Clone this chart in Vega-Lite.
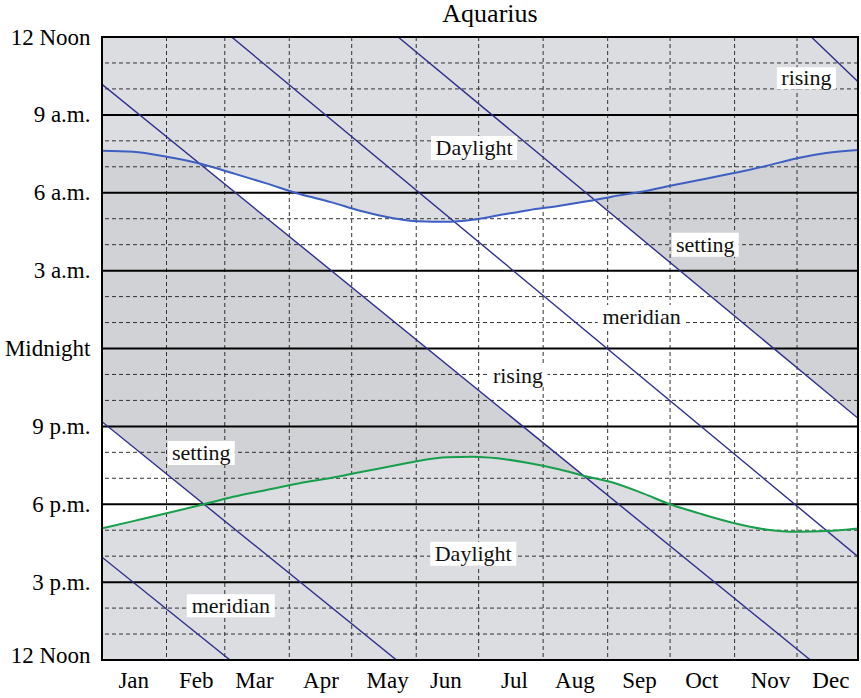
{
  "$schema": "https://vega.github.io/schema/vega-lite/v6.json",
  "width": 756,
  "height": 623,
  "autosize": "none",
  "padding": {"left": 102, "top": 37, "right": 3, "bottom": 38},
  "background": "white",
  "view": {"fill": "#d1d2d5", "stroke": null},
  "title": {"text": "Aquarius", "font": "Liberation Serif", "fontSize": 26, "fontWeight": "normal", "color": "black", "anchor": "middle", "dx": 10, "baseline": "alphabetic", "offset": -22},
  "config": {"font": "Liberation Serif"},
  "datasets": {
    "white": [
      {"piece": "main", "d": 0, "lo": 22.18, "hi": 24},
      {"piece": "main", "d": 142.3, "lo": 12.9, "hi": 24},
      {"piece": "main", "d": 340.4, "lo": 0, "hi": 10.83},
      {"piece": "main", "d": 363.3, "lo": 0, "hi": 9.31},
      {"piece": "low", "d": 0, "lo": 0, "hi": 9.18},
      {"piece": "low", "d": 141.5, "lo": 0, "hi": 0},
      {"piece": "high", "d": 340.9, "lo": 24, "hi": 24},
      {"piece": "high", "d": 363.3, "lo": 22.28, "hi": 24}
    ],
    "sun": [
      {"d": 0, "dawn": 19.62, "dusk": 5.07},
      {"d": 15, "dawn": 19.58, "dusk": 5.35},
      {"d": 31, "dawn": 19.39, "dusk": 5.65},
      {"d": 47, "dawn": 19.13, "dusk": 5.96},
      {"d": 63, "dawn": 18.75, "dusk": 6.29},
      {"d": 79, "dawn": 18.36, "dusk": 6.55},
      {"d": 95, "dawn": 17.95, "dusk": 6.81},
      {"d": 110, "dawn": 17.64, "dusk": 7.01},
      {"d": 125, "dawn": 17.29, "dusk": 7.25},
      {"d": 140, "dawn": 17.02, "dusk": 7.48},
      {"d": 152, "dawn": 16.9, "dusk": 7.67},
      {"d": 166, "dawn": 16.88, "dusk": 7.81},
      {"d": 178, "dawn": 16.96, "dusk": 7.83},
      {"d": 190, "dawn": 17.12, "dusk": 7.77},
      {"d": 205, "dawn": 17.33, "dusk": 7.59},
      {"d": 220, "dawn": 17.5, "dusk": 7.34},
      {"d": 233, "dawn": 17.67, "dusk": 7.07},
      {"d": 245, "dawn": 17.85, "dusk": 6.85},
      {"d": 260, "dawn": 18.05, "dusk": 6.42},
      {"d": 273, "dawn": 18.27, "dusk": 6.0},
      {"d": 287, "dawn": 18.49, "dusk": 5.65},
      {"d": 303, "dawn": 18.75, "dusk": 5.29},
      {"d": 319, "dawn": 19.03, "dusk": 5.03},
      {"d": 334, "dawn": 19.33, "dusk": 4.94},
      {"d": 348, "dawn": 19.53, "dusk": 4.97},
      {"d": 363.3, "dawn": 19.65, "dusk": 5.07}
    ],
    "lines": [
      {"seg": "rising-a", "d": 0, "t": 22.18},
      {"seg": "rising-a", "d": 340.4, "t": 0},
      {"seg": "rising-b", "d": 340.9, "t": 24},
      {"seg": "rising-b", "d": 363.3, "t": 22.28},
      {"seg": "meridian-a", "d": 62.3, "t": 24},
      {"seg": "meridian-a", "d": 363.3, "t": 3.98},
      {"seg": "meridian-b", "d": 0, "t": 3.96},
      {"seg": "meridian-b", "d": 61.5, "t": 0},
      {"seg": "setting-a", "d": 142.3, "t": 24},
      {"seg": "setting-a", "d": 363.3, "t": 9.31},
      {"seg": "setting-b", "d": 0, "t": 9.18},
      {"seg": "setting-b", "d": 141.5, "t": 0}
    ],
    "hours": [
      {"h": 1}, {"h": 2}, {"h": 3}, {"h": 4}, {"h": 5}, {"h": 6}, {"h": 7}, {"h": 8},
      {"h": 9}, {"h": 10}, {"h": 11}, {"h": 12}, {"h": 13}, {"h": 14}, {"h": 15}, {"h": 16},
      {"h": 17}, {"h": 18}, {"h": 19}, {"h": 20}, {"h": 21}, {"h": 22}, {"h": 23}
    ],
    "months": [
      {"d": 31}, {"d": 59}, {"d": 90}, {"d": 120}, {"d": 151}, {"d": 181},
      {"d": 212}, {"d": 243}, {"d": 273}, {"d": 304}, {"d": 334}
    ],
    "labels": [
      {"label": "Daylight", "d": 178.8, "t": 19.72},
      {"label": "Daylight", "d": 178.4, "t": 4.09},
      {"label": "rising", "d": 338.5, "t": 22.41},
      {"label": "rising", "d": 199.9, "t": 10.94},
      {"label": "setting", "d": 289.9, "t": 16.0},
      {"label": "setting", "d": 47.7, "t": 7.97},
      {"label": "meridian", "d": 259.3, "t": 13.23},
      {"label": "meridian", "d": 61.9, "t": 2.09}
    ],
    "frame": [{"name": "frame"}]
  },
  "resolve": {"axis": {"x": "independent", "y": "independent"}},
  "layer": [
    {
      "data": {"name": "white"},
      "mark": {"type": "area", "color": "#ffffff", "opacity": 1, "clip": true},
      "encoding": {
        "x": {"field": "d", "type": "quantitative", "scale": {"domain": [0, 363.3], "nice": false, "zero": false}, "axis": null},
        "y": {"field": "lo", "type": "quantitative", "scale": {"domain": [0, 24], "nice": false, "zero": false}, "axis": null},
        "y2": {"field": "hi"},
        "detail": {"field": "piece"}
      }
    },
    {
      "data": {"name": "sun"},
      "mark": {"type": "area", "color": "#dcdde0", "opacity": 1, "interpolate": "monotone", "clip": true},
      "encoding": {
        "x": {"field": "d", "type": "quantitative", "scale": {"domain": [0, 363.3], "nice": false, "zero": false}, "axis": null},
        "y": {"field": "dawn", "type": "quantitative", "scale": {"domain": [0, 24], "nice": false, "zero": false}, "axis": null},
        "y2": {"datum": 24}
      }
    },
    {
      "data": {"name": "sun"},
      "mark": {"type": "area", "color": "#dcdde0", "opacity": 1, "interpolate": "monotone", "clip": true},
      "encoding": {
        "x": {"field": "d", "type": "quantitative", "scale": {"domain": [0, 363.3], "nice": false, "zero": false}, "axis": null},
        "y": {"field": "dusk", "type": "quantitative", "scale": {"domain": [0, 24], "nice": false, "zero": false}, "axis": null},
        "y2": {"datum": 0}
      }
    },
    {
      "data": {"name": "hours"},
      "transform": [{"filter": "datum.h % 3 !== 0"}],
      "mark": {"type": "rule", "color": "#333333", "strokeWidth": 1, "strokeDash": [4, 3]},
      "encoding": {
        "y": {"field": "h", "type": "quantitative", "scale": {"domain": [0, 24], "nice": false, "zero": false}, "axis": null}
      }
    },
    {
      "data": {"name": "months"},
      "mark": {"type": "rule", "color": "#333333", "strokeWidth": 1, "strokeDash": [4, 3]},
      "encoding": {
        "x": {"field": "d", "type": "quantitative", "scale": {"domain": [0, 363.3], "nice": false, "zero": false}, "axis": null}
      }
    },
    {
      "data": {"name": "hours"},
      "transform": [{"filter": "datum.h % 3 === 0"}],
      "mark": {"type": "rule", "color": "#000000", "strokeWidth": 2},
      "encoding": {
        "y": {"field": "h", "type": "quantitative", "scale": {"domain": [0, 24], "nice": false, "zero": false}, "axis": null}
      }
    },
    {
      "data": {"name": "lines"},
      "mark": {"type": "line", "color": "#2d2e8f", "strokeWidth": 1.4, "clip": true},
      "encoding": {
        "x": {"field": "d", "type": "quantitative", "scale": {"domain": [0, 363.3], "nice": false, "zero": false}, "axis": null},
        "y": {"field": "t", "type": "quantitative", "scale": {"domain": [0, 24], "nice": false, "zero": false}, "axis": null},
        "detail": {"field": "seg"}
      }
    },
    {
      "data": {"name": "sun"},
      "mark": {"type": "line", "color": "#3d5fc4", "strokeWidth": 2, "interpolate": "monotone", "clip": true},
      "encoding": {
        "x": {"field": "d", "type": "quantitative", "scale": {"domain": [0, 363.3], "nice": false, "zero": false}, "axis": null},
        "y": {"field": "dawn", "type": "quantitative", "scale": {"domain": [0, 24], "nice": false, "zero": false}, "axis": null}
      }
    },
    {
      "data": {"name": "sun"},
      "mark": {"type": "line", "color": "#16a04c", "strokeWidth": 2, "interpolate": "monotone", "clip": true},
      "encoding": {
        "x": {"field": "d", "type": "quantitative", "scale": {"domain": [0, 363.3], "nice": false, "zero": false}, "axis": null},
        "y": {"field": "dusk", "type": "quantitative", "scale": {"domain": [0, 24], "nice": false, "zero": false}, "axis": null}
      }
    },
    {
      "data": {"name": "labels"},
      "mark": {"type": "point", "filled": true, "color": "#ffffff", "opacity": 1, "size": 400, "strokeWidth": 0},
      "encoding": {
        "x": {"field": "d", "type": "quantitative", "scale": {"domain": [0, 363.3], "nice": false, "zero": false}, "axis": null},
        "y": {"field": "t", "type": "quantitative", "scale": {"domain": [0, 24], "nice": false, "zero": false}, "axis": null},
        "shape": {
          "field": "label", "type": "nominal", "legend": null,
          "scale": {
            "domain": ["Daylight", "rising", "setting", "meridian"],
            "range": ["M-4.3,-1.2H4.3V1.2H-4.3Z", "M-2.95,-1.1H2.95V1.1H-2.95Z", "M-3.35,-1.2H3.35V1.2H-3.35Z", "M-4.4,-1.15H4.4V1.15H-4.4Z"]
          }
        }
      }
    },
    {
      "data": {"name": "labels"},
      "mark": {"type": "text", "font": "Liberation Serif", "fontSize": 22, "color": "#111111", "align": "center", "baseline": "middle"},
      "encoding": {
        "x": {"field": "d", "type": "quantitative", "scale": {"domain": [0, 363.3], "nice": false, "zero": false}, "axis": null},
        "y": {"field": "t", "type": "quantitative", "scale": {"domain": [0, 24], "nice": false, "zero": false}, "axis": null},
        "text": {"field": "label"}
      }
    },
    {
      "data": {"name": "frame"},
      "mark": {"type": "rect", "filled": false, "stroke": "#000000", "strokeWidth": 2},
      "encoding": {
        "x": {
          "datum": 0, "type": "quantitative",
          "scale": {"domain": [0, 363.3], "nice": false, "zero": false},
          "axis": {
            "title": null,
            "values": [15, 45, 73, 105, 137, 165, 198, 227, 258, 288, 321, 350],
            "labelExpr": "['Jan','Feb','Mar','Apr','May','Jun','Jul','Aug','Sep','Oct','Nov','Dec'][indexof([15,45,73,105,137,165,198,227,258,288,321,350], datum.value)]",
            "ticks": false, "tickSize": 0, "domain": false, "grid": false,
            "labelFont": "Liberation Serif", "labelFontSize": 23, "labelColor": "black",
            "labelPadding": 9, "labelBaseline": "top", "labelAlign": "center",
            "labelFlush": false, "labelOverlap": false
          }
        },
        "x2": {"datum": 363.3},
        "y": {
          "datum": 0, "type": "quantitative",
          "scale": {"domain": [0, 24], "nice": false, "zero": false},
          "axis": {
            "title": null,
            "values": [0, 3, 6, 9, 12, 15, 18, 21, 24],
            "labelExpr": "datum.value == 0 || datum.value == 24 ? '12 Noon' : datum.value == 3 ? '3 p.m.' : datum.value == 6 ? '6 p.m.' : datum.value == 9 ? '9 p.m.' : datum.value == 12 ? 'Midnight' : datum.value == 15 ? '3 a.m.' : datum.value == 18 ? '6 a.m.' : '9 a.m.'",
            "ticks": false, "tickSize": 0, "domain": false, "grid": false,
            "labelFont": "Liberation Serif", "labelFontSize": 23, "labelColor": "black",
            "labelPadding": 12,
            "labelOffset": {"condition": {"test": "datum.value == 0", "value": -5}, "value": 0},
            "labelBaseline": "middle", "labelFlush": false, "labelOverlap": false
          }
        },
        "y2": {"datum": 24}
      }
    }
  ]
}
